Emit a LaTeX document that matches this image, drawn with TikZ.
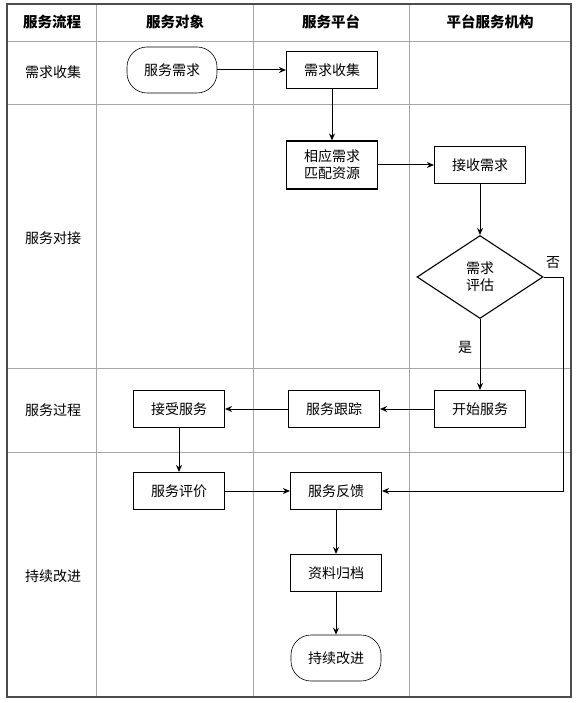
\documentclass[tikz,border=0pt]{standalone}
\usepackage{fontspec}
\setmainfont{Noto Sans CJK SC}
\usetikzlibrary{%
        arrows.meta,%
        shapes.geometric%
    }

\begin{document}
\begin{tikzpicture}[x=1pt,y=-1pt,
    lane/.style={gray!70,line width=0.6pt},
    frame/.style={gray!60!black,line width=1.3pt},
    proc/.style={draw,line width=1.1pt,minimum width=91pt,minimum height=37pt,
      align=center,inner sep=2pt},
    term/.style={draw,line width=0.6pt,rounded corners=20pt,
      minimum width=90pt,minimum height=46pt},
    judge/.style={draw,diamond,line width=1.1pt,minimum width=126pt,
      minimum height=83pt,inner sep=0pt,align=center},
    flow/.style={line width=1pt,-{Stealth[length=7pt,width=6pt]}},
    every node/.style={font=\fontsize{14}{17}\selectfont}]
  \useasboundingbox (0,0) rectangle (576,703);
  % table
  \draw[lane] (7,41) -- (571,41);
  \draw[lane] (7,104) -- (571,104);
  \draw[lane] (7,368) -- (571,368);
  \draw[lane] (7,452) -- (571,452);
  \foreach \x in {96,253,409}
    \draw[lane] (\x,4) -- (\x,697);
  \draw[frame] (7,4) rectangle (571,697);% border
  % header
  \node[font=\fontsize{14.5}{17}\selectfont\bfseries] (hflow) at (52,22) {服务流程};
  \node[font=\fontsize{14.5}{17}\selectfont\bfseries] (hobj) at (175,22) {服务对象};
  \node[font=\fontsize{14.5}{17}\selectfont\bfseries] (hplat) at (331,22) {服务平台};
  \node[font=\fontsize{14.5}{17}\selectfont\bfseries] (horg) at (490,22) {平台服务机构};
  % stages
  \node (scollect) at (53,72) {需求收集};
  \node (sdock) at (53,238) {服务对接};
  \node (sproc) at (53,410) {服务过程};
  \node (simprove) at (53,576) {持续改进};
  % flow nodes
  \node[term] (need) at (172,70) {服务需求};
  \node[proc] (collect) at (332,70) {需求收集};
  \node[proc,minimum height=48pt] (match) at (332,165) {相应需求\\匹配资源};
  \node[proc] (receive) at (480,165) {接收需求};
  \node[judge] (assess) at (480,277) {需求\\评估};
  \node[proc] (start) at (480,409) {开始服务};
  \node[proc] (track) at (334,409) {服务跟踪};
  \node[proc] (accept) at (179,409) {接受服务};
  \node[proc] (rate) at (179,491) {服务评价};
  \node[proc] (feedback) at (336,491) {服务反馈};
  \node[proc] (archive) at (336,573) {资料归档};
  \node[term] (improve) at (336,658) {持续改进};
  \coordinate (noturn) at (563,277);
  % connectors
  \draw[flow] (need) -- (collect);
  \draw[flow] (collect) -- (match);
  \draw[flow] (match) -- (receive);
  \draw[flow] (receive) -- (assess);
  \draw[flow] (assess) -- node[pos=0.4,left=4pt] (yes) {是} (start);
  \draw[flow] (assess.east) -- (noturn) |- (feedback.east);
  \node (no) at (553,263) {否};
  \draw[flow] (start) -- (track);
  \draw[flow] (track) -- (accept);
  \draw[flow] (accept) -- (rate);
  \draw[flow] (rate) -- (feedback);
  \draw[flow] (feedback) -- (archive);
  \draw[flow] (archive) -- (improve);
\end{tikzpicture}
\end{document}
